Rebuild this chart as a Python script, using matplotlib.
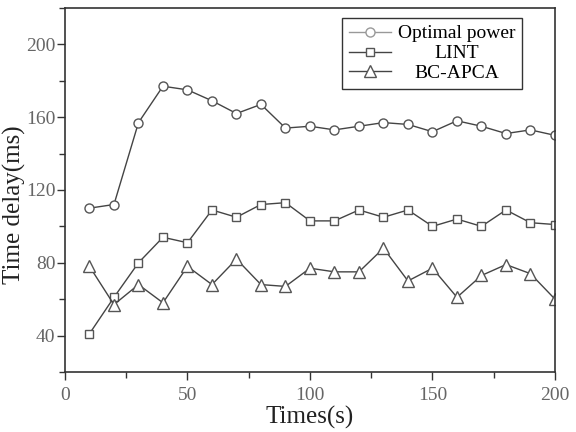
import numpy as np
import matplotlib
matplotlib.use('Agg')
import matplotlib.pyplot as plt
from matplotlib.ticker import MultipleLocator

plt.rcParams['font.family'] = ['Liberation Serif', 'DejaVu Serif']

times = [10, 20, 30, 40, 50, 60, 70, 80, 90, 100,
         110, 120, 130, 140, 150, 160, 170, 180, 190, 200]
optimal = [110, 112, 157, 177, 175, 169, 162, 167, 154, 155,
           153, 155, 157, 156, 152, 158, 155, 151, 153, 150]
lint = [41, 61, 80, 94, 91, 109, 105, 112, 113, 103,
        103, 109, 105, 109, 100, 104, 100, 109, 102, 101]
bcapca = [78, 57, 68, 58, 78, 68, 82, 68, 67, 77,
          75, 75, 88, 70, 77, 61, 73, 79, 74, 60]
labels = ['Optimal power', 'LINT', 'BC-APCA']

fig = plt.figure(figsize=(5.76, 4.32), dpi=100)
ax = fig.add_axes([0.1128, 0.139, 0.8507, 0.8426])

mk = dict(markerfacecolor='white', markeredgecolor='#555555',
          markeredgewidth=1.0, linewidth=1.0, color='#444444')
ax.plot(times, optimal, marker='o', markersize=6.5, label=labels[0], **mk)
ax.plot(times, lint, marker='s', markersize=5.3, label=labels[1], **mk)
ax.plot(times, bcapca, marker='^', markersize=8, label=labels[2], **mk)

ax.set_xlim(0, 200)
ax.set_ylim(20, 220)
ax.xaxis.set_major_locator(MultipleLocator(50))
ax.xaxis.set_minor_locator(MultipleLocator(25))
ax.yaxis.set_minor_locator(MultipleLocator(20))
ax.set_yticks([40, 80, 120, 160, 200])
ax.tick_params(which='both', direction='out', top=False, right=False,
               labelsize=14, labelcolor='#666666', width=1.0, color='#333333')
ax.tick_params(which='major', length=6, pad=1)
ax.tick_params(which='minor', length=4)
ax.tick_params(axis='x', pad=5)
for s in ax.spines.values():
    s.set_linewidth(1.2)
    s.set_color('#333333')

ax.set_xlabel('Times(s)', fontsize=18, labelpad=1, color='#222222')
ax.set_ylabel('Time delay(ms)', fontsize=18, color='#222222')
ax.yaxis.set_label_coords(-0.08, 0.46)

leg = ax.legend(loc='upper right', bbox_to_anchor=(0.933, 0.9725),
                fontsize=14, frameon=True, fancybox=False,
                edgecolor='#333333', framealpha=1, handlelength=2.15,
                borderpad=0.35, labelspacing=0.12, handletextpad=0.35,
                borderaxespad=0)
leg.get_frame().set_linewidth(1.0)
leg.get_lines()[0].set_color('#999999')
leg.get_lines()[0].set_markeredgecolor('#999999')

fig.canvas.draw()
r = fig.canvas.get_renderer()
texts = leg.get_texts()
widths = [t.get_window_extent(r).width for t in texts]
wmax = max(widths)
for t, w in zip(texts, widths):
    t.set_position(((wmax - w) / 2, 0))

fig.savefig('out.png', dpi=100)
